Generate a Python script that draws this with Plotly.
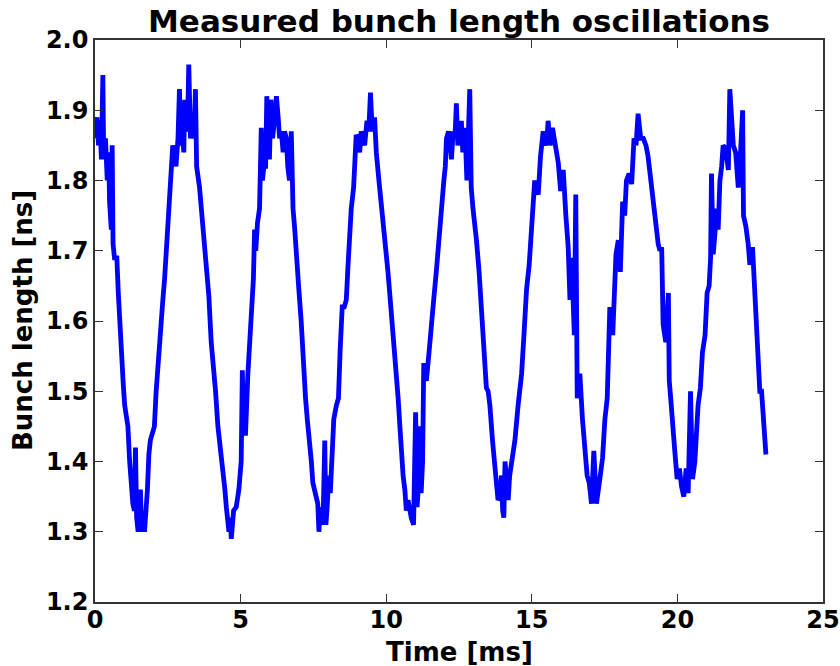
import plotly.graph_objects as go

time_ms = [
    0.02, 0.07, 0.12, 0.17, 0.22, 0.27, 0.30, 0.36, 0.42, 0.47, 0.50, 0.56, 0.59, 0.62, 0.67, 0.75,
    0.80, 0.85, 0.91, 0.97, 1.02, 1.08, 1.13, 1.19, 1.24, 1.30, 1.35, 1.39, 1.43, 1.48, 1.52, 1.56,
    1.60, 1.65, 1.70, 1.76, 1.80, 1.85, 1.90, 1.97, 2.04, 2.10, 2.16, 2.22, 2.28, 2.33, 2.39, 2.45,
    2.50, 2.56, 2.62, 2.67, 2.72, 2.78, 2.85, 2.90, 2.95, 3.00, 3.05, 3.08, 3.13, 3.18, 3.22, 3.28,
    3.34, 3.40, 3.45, 3.49, 3.59, 3.65, 3.71, 3.77, 3.82, 3.91, 3.99, 4.07, 4.14, 4.22, 4.28, 4.33,
    4.41, 4.46, 4.51, 4.56, 4.60, 4.65, 4.68, 4.72, 4.76, 4.85, 4.94, 5.02, 5.06, 5.10, 5.17, 5.25,
    5.32, 5.40, 5.44, 5.48, 5.52, 5.58, 5.65, 5.71, 5.75, 5.80, 5.86, 5.90, 5.95, 5.99, 6.04, 6.10,
    6.17, 6.23, 6.29, 6.34, 6.40, 6.46, 6.51, 6.57, 6.62, 6.68, 6.74, 6.80, 6.86, 6.91, 7.00, 7.08,
    7.14, 7.23, 7.29, 7.35, 7.43, 7.48, 7.54, 7.60, 7.65, 7.69, 7.74, 7.78, 7.83, 7.89, 7.93, 7.98,
    8.03, 8.08, 8.14, 8.20, 8.29, 8.36, 8.42, 8.49, 8.56, 8.63, 8.69, 8.75, 8.80, 8.88, 8.93, 8.97,
    9.03, 9.09, 9.14, 9.20, 9.26, 9.34, 9.40, 9.46, 9.52, 9.60, 9.66, 9.75, 9.83, 9.90, 9.95, 10.06,
    10.12, 10.18, 10.24, 10.29, 10.35, 10.41, 10.47, 10.52, 10.58, 10.64, 10.69, 10.75, 10.80, 10.86,
    10.94, 11.01, 11.06, 11.10, 11.15, 11.20, 11.25, 11.29, 11.34, 11.38, 11.47, 11.55, 11.63, 11.72,
    11.81, 11.90, 11.98, 12.03, 12.07, 12.14, 12.20, 12.24, 12.30, 12.36, 12.41, 12.46, 12.52, 12.58,
    12.63, 12.68, 12.72, 12.77, 12.87, 12.92, 12.98, 13.04, 13.10, 13.19, 13.27, 13.35, 13.44, 13.50,
    13.56, 13.65, 13.73, 13.80, 13.84, 13.90, 13.96, 14.00, 14.04, 14.08, 14.13, 14.19, 14.24, 14.33,
    14.42, 14.53, 14.65, 14.73, 14.82, 14.91, 14.99, 15.05, 15.10, 15.16, 15.22, 15.30, 15.39, 15.46,
    15.52, 15.56, 15.63, 15.71, 15.77, 15.83, 15.91, 15.99, 16.08, 16.17, 16.25, 16.31, 16.37, 16.46,
    16.51, 16.56, 16.65, 16.74, 16.82, 16.90, 16.97, 17.05, 17.13, 17.18, 17.22, 17.32, 17.43, 17.51,
    17.59, 17.68, 17.78, 17.89, 17.97, 18.04, 18.12, 18.19, 18.25, 18.34, 18.43, 18.51, 18.58, 18.65,
    18.74, 18.83, 18.92, 18.99, 19.08, 19.15, 19.20, 19.25, 19.34, 19.40, 19.46, 19.51, 19.60, 19.69,
    19.72, 19.77, 19.83, 19.91, 19.99, 20.07, 20.14, 20.22, 20.30, 20.37, 20.45, 20.52, 20.60, 20.66,
    20.71, 20.79, 20.86, 20.95, 21.02, 21.09, 21.14, 21.17, 21.23, 21.29, 21.35, 21.40, 21.46, 21.52,
    21.57, 21.66, 21.75, 21.80, 21.86, 21.92, 22.00, 22.09, 22.15, 22.24, 22.27, 22.35, 22.43, 22.49,
    22.58, 22.66, 22.72, 22.77, 22.83, 22.89, 22.95, 23.04,
]

bunch_length_ns = [
    1.86, 1.89, 1.85, 1.88, 1.83, 1.95, 1.83, 1.86, 1.80, 1.84, 1.77, 1.73, 1.85, 1.71, 1.69, 1.69,
    1.64, 1.59, 1.54, 1.51, 1.48, 1.46, 1.45, 1.40, 1.37, 1.34, 1.33, 1.42, 1.32, 1.30, 1.33, 1.36,
    1.30, 1.33, 1.30, 1.33, 1.36, 1.41, 1.43, 1.44, 1.45, 1.50, 1.54, 1.58, 1.60, 1.63, 1.66, 1.70,
    1.73, 1.76, 1.80, 1.85, 1.84, 1.82, 1.86, 1.93, 1.85, 1.87, 1.84, 1.915, 1.87, 1.88, 1.965, 1.86,
    1.88, 1.86, 1.93, 1.82, 1.79, 1.76, 1.74, 1.71, 1.69, 1.635, 1.57, 1.54, 1.50, 1.45, 1.43, 1.41,
    1.39, 1.36, 1.335, 1.32, 1.30, 1.32, 1.29, 1.31, 1.33, 1.335, 1.36, 1.40, 1.53, 1.44, 1.44, 1.525,
    1.57, 1.64, 1.66, 1.73, 1.70, 1.74, 1.76, 1.875, 1.80, 1.82, 1.82, 1.92, 1.84, 1.83, 1.915, 1.86,
    1.89, 1.92, 1.89, 1.86, 1.87, 1.84, 1.87, 1.86, 1.82, 1.80, 1.87, 1.76, 1.73, 1.69, 1.645, 1.60,
    1.545, 1.49, 1.46, 1.44, 1.40, 1.37, 1.36, 1.355, 1.34, 1.30, 1.335, 1.32, 1.31, 1.43, 1.31, 1.34,
    1.38, 1.355, 1.42, 1.46, 1.48, 1.49, 1.56, 1.62, 1.62, 1.63, 1.68, 1.725, 1.76, 1.79, 1.83, 1.865,
    1.86, 1.84, 1.87, 1.86, 1.85, 1.885, 1.87, 1.925, 1.87, 1.89, 1.84, 1.80, 1.77, 1.74, 1.715, 1.67,
    1.64, 1.61, 1.59, 1.56, 1.52, 1.49, 1.45, 1.41, 1.38, 1.36, 1.33, 1.345, 1.33, 1.32,
    1.31, 1.47, 1.335, 1.36, 1.45, 1.355, 1.40, 1.54, 1.52, 1.515, 1.555, 1.60, 1.63, 1.67,
    1.725, 1.76, 1.80, 1.82, 1.86, 1.87, 1.85, 1.83, 1.87, 1.86, 1.91, 1.85, 1.87, 1.885,
    1.84, 1.875, 1.86, 1.80, 1.93, 1.79, 1.76, 1.74, 1.715, 1.67, 1.615, 1.56, 1.505, 1.50,
    1.48, 1.43, 1.39, 1.36, 1.345, 1.35, 1.38, 1.33, 1.32, 1.40, 1.36, 1.345, 1.38, 1.405,
    1.43, 1.48, 1.525, 1.58, 1.645, 1.68, 1.725, 1.76, 1.80, 1.79, 1.78, 1.835, 1.87, 1.85,
    1.86, 1.885, 1.85, 1.875, 1.86, 1.85, 1.825, 1.785, 1.815, 1.75, 1.705, 1.63, 1.69, 1.58,
    1.78, 1.49, 1.525, 1.46, 1.41, 1.38, 1.37, 1.34, 1.415, 1.34, 1.34, 1.37, 1.405, 1.46,
    1.49, 1.62, 1.58, 1.695, 1.715, 1.67, 1.77, 1.75, 1.80, 1.81, 1.795, 1.86, 1.85, 1.895,
    1.86, 1.86, 1.85, 1.835, 1.80, 1.77, 1.75, 1.74, 1.71, 1.70, 1.705, 1.595, 1.57, 1.64,
    1.515, 1.49, 1.45, 1.415, 1.375, 1.39, 1.365, 1.35, 1.39, 1.355, 1.50, 1.375, 1.40, 1.445,
    1.48, 1.505, 1.555, 1.58, 1.64, 1.65, 1.69, 1.81, 1.695, 1.725, 1.76, 1.73, 1.80, 1.82,
    1.85, 1.845, 1.815, 1.93, 1.87, 1.85, 1.84, 1.79, 1.825, 1.90, 1.75, 1.735, 1.71, 1.68,
    1.705, 1.63, 1.595, 1.55, 1.50, 1.50, 1.46, 1.41,
]

x_ticks = [0, 5, 10, 15, 20, 25]
y_ticks = [1.2, 1.3, 1.4, 1.5, 1.6, 1.7, 1.8, 1.9, 2.0]
y_tick_labels = ["1.2", "1.3", "1.4", "1.5", "1.6", "1.7", "1.8", "1.9", "2.0"]

FONT = "DejaVu Sans"

fig = go.Figure()
fig.add_trace(go.Scatter(
    x=time_ms, y=bunch_length_ns, mode="lines",
    line=dict(color="#0000ff", width=4.8),
    showlegend=False, hoverinfo="skip",
))

axis_common = dict(
    showgrid=False, zeroline=False, automargin=False,
    showline=True, linecolor="#333333", linewidth=1.5, mirror="ticks",
    ticks="inside", ticklen=8, tickwidth=1, tickcolor="#333333",
    ticklabeloverflow="allow",
    tickfont=dict(family=FONT, size=24, color="black", weight="bold"),
)

fig.update_layout(
    width=840, height=666,
    margin=dict(l=95, r=17, t=40, b=64),
    paper_bgcolor="white", plot_bgcolor="white",
    font=dict(family=FONT, color="black"),
    title=dict(
        text="<b>Measured bunch length oscillations</b>",
        font=dict(family=FONT, size=31, color="black"),
        x=0.5, xanchor="center", xref="paper",
        y=0.952, yanchor="bottom", yref="container",
    ),
    xaxis=dict(
        range=[0, 25], tickvals=x_ticks, ticktext=[str(v) for v in x_ticks],
        ticklabelstandoff=-5,
        **axis_common,
    ),
    yaxis=dict(
        range=[1.2, 2.0], tickvals=y_ticks, ticktext=y_tick_labels,
        **axis_common,
    ),
    annotations=[
        dict(text="<b>Time [ms]</b>", xref="paper", yref="paper", x=0.5, y=0,
             xanchor="center", yanchor="middle", yshift=-50, showarrow=False,
             font=dict(family=FONT, size=26, color="black")),
        dict(text="<b>Bunch length [ns]</b>", xref="paper", yref="paper", x=0, y=0.5,
             xanchor="center", yanchor="middle", xshift=-72, textangle=-90, showarrow=False,
             font=dict(family=FONT, size=26, color="black")),
    ],
)

fig.write_html("out.html")
